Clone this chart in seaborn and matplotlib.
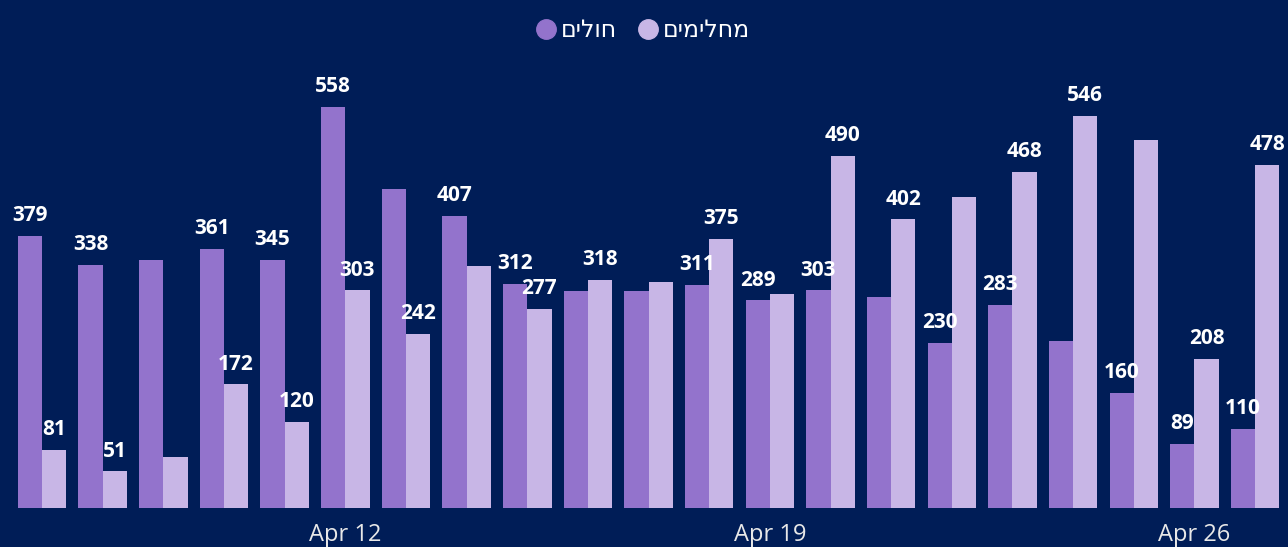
import pandas as pd
import numpy as np
import matplotlib.pyplot as plt
import seaborn as sns
from matplotlib.lines import Line2D

# daily values (Apr 7 - Apr 27)
days = ['Apr 7', 'Apr 8', 'Apr 9', 'Apr 10', 'Apr 11', 'Apr 12', 'Apr 13',
        'Apr 14', 'Apr 15', 'Apr 16', 'Apr 17', 'Apr 18', 'Apr 19', 'Apr 20',
        'Apr 21', 'Apr 22', 'Apr 23', 'Apr 24', 'Apr 25', 'Apr 26', 'Apr 27']
sick = [379, 338, 345, 361, 345, 558, 444, 407, 312, 302, 302, 311, 289, 303,
        294, 230, 283, 232, 160, 89, 110]
recovered = [81, 51, 71, 172, 120, 303, 242, 337, 277, 318, 314, 375, 298, 490,
             402, 433, 468, 546, 512, 208, 478]
# which labels the original shows (others hidden)
sick_shown = [1, 1, 0, 1, 1, 1, 0, 1, 1, 0, 0, 1, 1, 1, 0, 1, 1, 0, 1, 1, 1]
rec_shown = [1, 1, 0, 1, 1, 1, 1, 0, 1, 1, 0, 1, 0, 1, 1, 0, 1, 1, 0, 1, 1]
tick_days = ['Apr 12', 'Apr 19', 'Apr 26']

series_names = ['חולים', 'מחלימים']
colors = ['#9373CC', '#C8B6E6']
bg = '#001D57'

df = pd.DataFrame({
    'day': days * 2,
    'value': sick + recovered,
    'series': [series_names[0]] * len(days) + [series_names[1]] * len(days),
})

fig = plt.figure(figsize=(12.88, 5.47), dpi=100, facecolor=bg)
ax = fig.add_axes([11.7 / 1288, 39 / 547, 1273.7 / 1288, 431 / 547])
ax.set_facecolor(bg)

sns.barplot(data=df, x='day', y='value', hue='series', order=days,
            hue_order=series_names, palette=colors, width=0.8,
            saturation=1, ax=ax, legend=False)

for cont, vals, shown in zip(ax.containers, [sick, recovered], [sick_shown, rec_shown]):
    labels = [str(v) if s else '' for v, s in zip(vals, shown)]
    ax.bar_label(cont, labels=labels, padding=7, color='white',
                 fontsize=15, fontweight='bold', family=['Open Sans', 'DejaVu Sans'])

ax.set_xlim(-0.5, len(days) - 0.5)
ax.set_ylim(0, 600)
ax.set_xticks([days.index(d) for d in tick_days])
ax.set_xticklabels(tick_days, color='#E8E8E8', fontsize=17,
                   family=['Open Sans', 'DejaVu Sans'])
ax.tick_params(axis='x', length=0, pad=11)
ax.set_yticks([])
ax.set_xlabel('')
ax.set_ylabel('')
for s in ax.spines.values():
    s.set_visible(False)

# legend at top (Hebrew reversed so it reads right-to-left)
handles = [Line2D([], [], marker='o', linestyle='', markersize=14,
                  markerfacecolor=c, markeredgecolor=c) for c in colors]
fig.legend(handles, [n[::-1] for n in series_names], loc='center',
           bbox_to_anchor=(642 / 1288, 1 - 30 / 547), ncol=2, frameon=False,
           labelcolor='white', handletextpad=0.15, handlelength=1.0,
           columnspacing=0.8, prop={'family': ['DejaVu Sans'], 'size': 17})

fig.savefig('out.png', dpi=100, facecolor=bg)
